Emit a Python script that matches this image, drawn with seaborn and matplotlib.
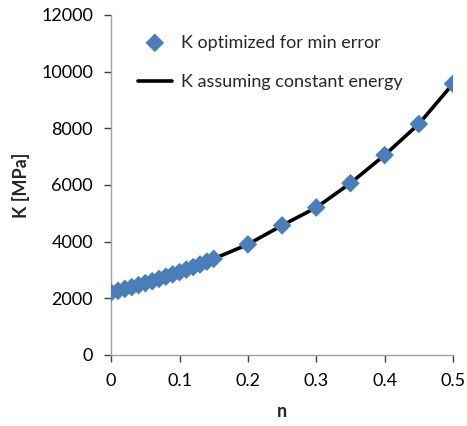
import matplotlib
matplotlib.use("Agg")
import matplotlib.pyplot as plt
import pandas as pd
import seaborn as sns

# values
n_opt = [0.00, 0.01, 0.02, 0.03, 0.04, 0.05, 0.06, 0.07, 0.08, 0.09, 0.10,
         0.11, 0.12, 0.13, 0.14, 0.15, 0.20, 0.25, 0.30, 0.35, 0.40, 0.45, 0.50]
k_opt = [2200, 2260, 2330, 2390, 2460, 2530, 2600, 2680, 2760, 2840, 2920,
         3010, 3100, 3190, 3290, 3390, 3900, 4570, 5200, 6060, 7050, 8150, 9570]

n_const = n_opt
k_const = [2200, 2260, 2330, 2390, 2460, 2530, 2600, 2680, 2760, 2840, 2920,
           3010, 3100, 3190, 3290, 3390, 3900, 4570, 5200, 6060, 7050, 8150, 9570]

x_ticks = [0, 0.1, 0.2, 0.3, 0.4, 0.5]
x_labels = ["0", "0.1", "0.2", "0.3", "0.4", "0.5"]
y_ticks = [0, 2000, 4000, 6000, 8000, 10000, 12000]

sns.set_style("white")
plt.rcParams["font.family"] = ["Lato", "DejaVu Sans"]

df_opt = pd.DataFrame({"n": n_opt, "K": k_opt})
df_const = pd.DataFrame({"n": n_const, "K": k_const})

fig = plt.figure(figsize=(4.67, 4.26), dpi=100)
ax = fig.add_axes([0.238, 0.167, 0.732, 0.798])

sns.lineplot(data=df_const, x="n", y="K", ax=ax, color="black", lw=2.6,
             label="K assuming constant energy", zorder=2)
sns.scatterplot(data=df_opt, x="n", y="K", ax=ax, marker="D", s=90,
                color="#4a7ebb", edgecolor="none", zorder=3,
                label="K optimized for min error")

ax.set_xlim(0, 0.5)
ax.set_ylim(0, 12000)
ax.set_xticks(x_ticks)
ax.set_xticklabels(x_labels)
ax.set_yticks(y_ticks)
ax.tick_params(axis="both", labelsize=13, colors="#404040", length=5,
               width=1, direction="out", pad=8, bottom=True, left=True)
for lab in ax.get_xticklabels() + ax.get_yticklabels():
    lab.set_color("black")

for side in ["top", "right"]:
    ax.spines[side].set_visible(False)
for side in ["left", "bottom"]:
    ax.spines[side].set_color("#a0a0a0")
    ax.spines[side].set_linewidth(1)

ax.set_xlabel("n", fontsize=13, fontweight="bold", labelpad=10)
ax.set_ylabel("K [MPa]", fontsize=13, fontweight="bold", labelpad=8)

handles, labels = ax.get_legend_handles_labels()
order = [labels.index("K optimized for min error"),
         labels.index("K assuming constant energy")]
ax.legend([handles[i] for i in order], [labels[i] for i in order],
          loc="upper left", bbox_to_anchor=(0.03, 0.99), frameon=False,
          fontsize=13, handlelength=1.9, handletextpad=0.5,
          labelspacing=1.3)

fig.savefig("out.png", dpi=100)
